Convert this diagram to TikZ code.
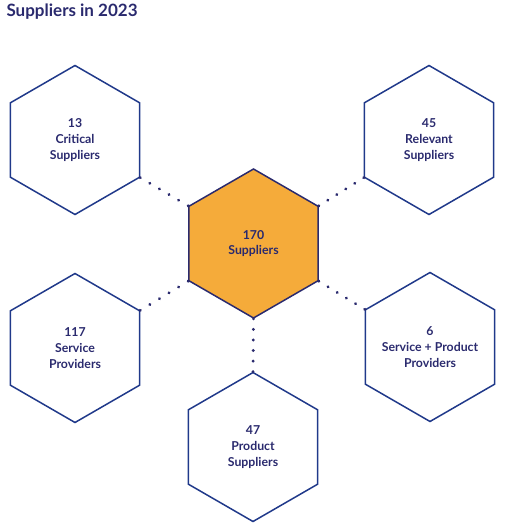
\documentclass[tikz,border=0pt]{standalone}
\usepackage{fontspec}
\setmainfont{Lato}
\usetikzlibrary{shapes.geometric,decorations.markings}
\definecolor{navy}{HTML}{2A2A6E}
\definecolor{hexblue}{HTML}{20398A}
\definecolor{amber}{HTML}{F5AB3A}

\begin{document}
\begin{tikzpicture}[x=1pt,y=-1pt,
    hexnode/.style={regular polygon, regular polygon sides=6, shape border rotate=30,
        minimum size=149pt, inner sep=0pt, draw=hexblue, line width=1.5pt,
        text=navy, align=center, font=\fontsize{12.3}{15.8}\selectfont\bfseries},
    hubnode/.style={hexnode, draw=navy, fill=amber},
    dotline/.style={decoration={markings,
        mark=between positions 0 and 1 step 0.1999 with {\fill[navy] (0,0) circle (1.6pt);}},
        decorate}]
    \useasboundingbox (0,0) rectangle (504,529);

    \node[anchor=base west, text=navy, font=\fontsize{17}{20}\selectfont\bfseries] (title) at (3,17) {Suppliers in 2023};

    \node[hubnode] (hub) at (253.5,243.5) {170\\Suppliers};

    \node[hexnode] (critical) at (75,140) {13\\Critical\\Suppliers};
    \node[hexnode] (relevant) at (429,140) {45\\Relevant\\Suppliers};
    \node[hexnode] (service) at (75,348) {117\\Service\\Providers};
    \node[hexnode] (mixed) at (430,347) {6\\\makebox[0pt]{Service + Product}\\Providers};
    \node[hexnode] (product) at (253,447) {47\\Product\\Suppliers};

    \path[dotline] (critical.330) -- (hub.150);
    \path[dotline] (relevant.210) -- (hub.30);
    \path[dotline] (service.30) -- (hub.210);
    \path[dotline] (mixed.150) -- (hub.330);
    \path[dotline] (hub.270) -- (product.90);
\end{tikzpicture}
\end{document}
